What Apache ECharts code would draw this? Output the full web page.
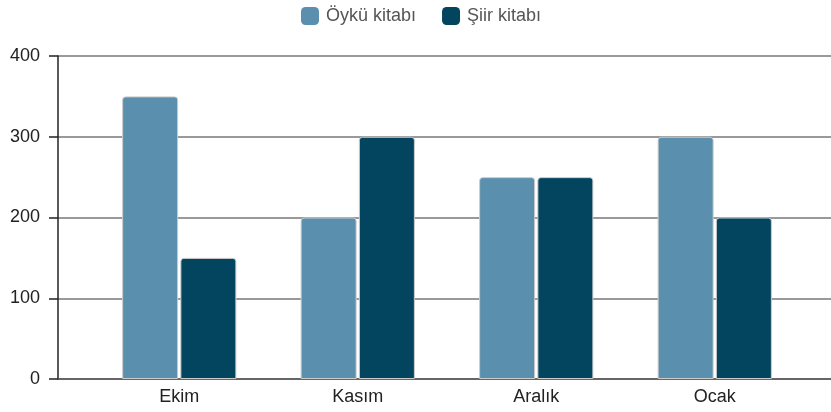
<!DOCTYPE html>
<html>
<head>
<meta charset="utf-8">
<script src="https://cdn.jsdelivr.net/npm/echarts@6/dist/echarts.min.js"></script>
<style>
  html, body { margin: 0; padding: 0; background: #fff; }
  #myChart { width: 831px; height: 412px; }
</style>
</head>
<body>
<div id="myChart"></div>
<script>
// 月份
let months = ['Ekim', 'Kasım', 'Aralık', 'Ocak'];
// 两组数据
let oykuData = [350, 200, 250, 300];
let siirData = [150, 300, 250, 200];
let seriesNames = ['Öykü kitabı', 'Şiir kitabı'];
let colors = ['#5a90ae', '#03445f'];

let chart = echarts.init(document.getElementById('myChart'));

let option = {
  color: colors,
  textStyle: { fontFamily: 'Liberation Sans, Arial, sans-serif' },
  legend: {
    top: 2,
    left: 296,
    itemWidth: 18,
    itemHeight: 18,
    itemGap: 26,
    icon: 'roundRect',
    itemStyle: { borderWidth: 0 },
    textStyle: { fontSize: 18, color: '#555', padding: [0, 0, 0, 2] },
    data: seriesNames
  },
  grid: [
    // 轴线和参考线
    { left: 58, right: 0, top: 56, bottom: 33 },
    // 柱子
    { left: 90, right: 27, top: 56, bottom: 33 }
  ],
  xAxis: [
    {
      gridIndex: 0,
      type: 'value',
      min: 0, max: 1,
      axisLine: { show: true, onZero: false, lineStyle: { color: '#555', width: 1.5 } },
      axisTick: { show: false },
      axisLabel: { show: false },
      splitLine: { show: false }
    },
    {
      gridIndex: 1,
      type: 'category',
      data: months,
      axisLine: { show: false },
      axisTick: { show: false },
      axisLabel: { fontSize: 18, color: '#222', margin: 9 }
    }
  ],
  yAxis: [
    {
      gridIndex: 0,
      type: 'value',
      min: 0, max: 400, interval: 100,
      axisLine: { show: true, lineStyle: { color: '#222', width: 1.5 } },
      axisTick: { show: true, length: 9, lineStyle: { color: '#222', width: 1.5 } },
      axisLabel: { fontSize: 18, color: '#222', margin: 18 },
      splitLine: { show: true, lineStyle: { color: '#777', width: 1.5 } }
    },
    {
      gridIndex: 1,
      type: 'value',
      min: 0, max: 400, interval: 100,
      axisLine: { show: false },
      axisTick: { show: false },
      axisLabel: { show: false },
      splitLine: { show: false }
    }
  ],
  series: [
    {
      name: seriesNames[0],
      type: 'bar',
      xAxisIndex: 1, yAxisIndex: 1,
      barWidth: 56,
      barGap: '4%',
      itemStyle: { color: colors[0], borderColor: '#ccc', borderWidth: 1, borderRadius: [3, 3, 0, 0] },
      data: oykuData
    },
    {
      name: seriesNames[1],
      type: 'bar',
      xAxisIndex: 1, yAxisIndex: 1,
      barWidth: 56,
      barGap: '4%',
      itemStyle: { color: colors[1], borderColor: '#ccc', borderWidth: 1, borderRadius: [3, 3, 0, 0] },
      data: siirData
    }
  ]
};

chart.setOption(option);
</script>
</body>
</html>
